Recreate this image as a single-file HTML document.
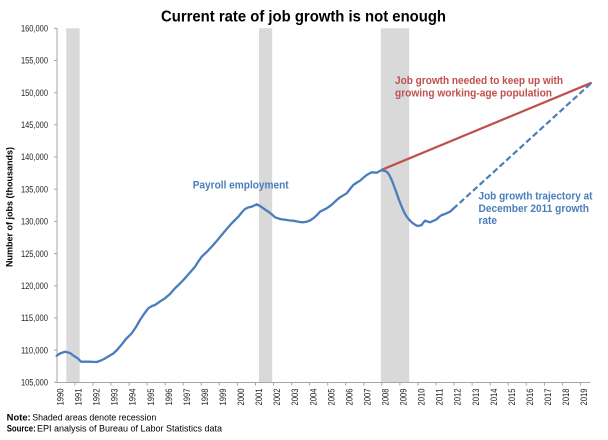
<!DOCTYPE html>
<html>
<head>
<meta charset="utf-8">
<style>
  html, body { margin: 0; padding: 0; background: #ffffff; }
  body { width: 608px; height: 440px; overflow: hidden; }
  svg { display: block; }
  text { font-family: "Liberation Sans", "DejaVu Sans", sans-serif; }
</style>
</head>
<body>
<svg width="608" height="440" viewBox="0 0 608 440" xmlns="http://www.w3.org/2000/svg">
  <rect x="0" y="0" width="608" height="440" fill="#ffffff"/>

  <!-- Title -->
  <text x="161" y="21.5" font-size="15.5" font-weight="bold" fill="#000" textLength="285" lengthAdjust="spacingAndGlyphs">Current rate of job growth is not enough</text>

  <!-- Recession shading -->
  <rect x="66.3" y="28.3" width="13.4" height="354" fill="#d9d9d9"/>
  <rect x="259" y="28.3" width="13.2" height="354" fill="#d9d9d9"/>
  <rect x="380.8" y="28.3" width="28.4" height="354" fill="#d9d9d9"/>

  <!-- Axes -->
  <line x1="57" y1="28" x2="57" y2="382.5" stroke="#a6a6a6" stroke-width="1"/>
  <line x1="57" y1="382.5" x2="590.5" y2="382.5" stroke="#a6a6a6" stroke-width="1"/>

  <!-- Y ticks and labels -->
  <g stroke="#a6a6a6" stroke-width="1">
    <line x1="54" y1="28.3" x2="57" y2="28.3"/>
    <line x1="54" y1="60.5" x2="57" y2="60.5"/>
    <line x1="54" y1="92.7" x2="57" y2="92.7"/>
    <line x1="54" y1="124.8" x2="57" y2="124.8"/>
    <line x1="54" y1="157" x2="57" y2="157"/>
    <line x1="54" y1="189.2" x2="57" y2="189.2"/>
    <line x1="54" y1="221.4" x2="57" y2="221.4"/>
    <line x1="54" y1="253.6" x2="57" y2="253.6"/>
    <line x1="54" y1="285.8" x2="57" y2="285.8"/>
    <line x1="54" y1="317.9" x2="57" y2="317.9"/>
    <line x1="54" y1="350.1" x2="57" y2="350.1"/>
    <line x1="54" y1="382.3" x2="57" y2="382.3"/>
  </g>
  <g font-size="9" fill="#222" text-anchor="end">
    <text x="48" y="31.5" textLength="27" lengthAdjust="spacingAndGlyphs">160,000</text>
    <text x="48" y="63.7" textLength="27" lengthAdjust="spacingAndGlyphs">155,000</text>
    <text x="48" y="95.9" textLength="27" lengthAdjust="spacingAndGlyphs">150,000</text>
    <text x="48" y="128" textLength="27" lengthAdjust="spacingAndGlyphs">145,000</text>
    <text x="48" y="160.2" textLength="27" lengthAdjust="spacingAndGlyphs">140,000</text>
    <text x="48" y="192.4" textLength="27" lengthAdjust="spacingAndGlyphs">135,000</text>
    <text x="48" y="224.6" textLength="27" lengthAdjust="spacingAndGlyphs">130,000</text>
    <text x="48" y="256.8" textLength="27" lengthAdjust="spacingAndGlyphs">125,000</text>
    <text x="48" y="289" textLength="27" lengthAdjust="spacingAndGlyphs">120,000</text>
    <text x="48" y="321.1" textLength="27" lengthAdjust="spacingAndGlyphs">115,000</text>
    <text x="48" y="353.3" textLength="27" lengthAdjust="spacingAndGlyphs">110,000</text>
    <text x="48" y="385.5" textLength="27" lengthAdjust="spacingAndGlyphs">105,000</text>
  </g>

  <!-- Y axis title -->
  <text transform="translate(12.5,207) rotate(-90)" text-anchor="middle" font-size="9.5" font-weight="bold" fill="#000" textLength="120" lengthAdjust="spacingAndGlyphs">Number of jobs (thousands)</text>

  <!-- X ticks -->
  <g stroke="#a6a6a6" stroke-width="1">
    <line x1="74.9" y1="382.5" x2="74.9" y2="385.5"/>
    <line x1="92.9" y1="382.5" x2="92.9" y2="385.5"/>
    <line x1="111" y1="382.5" x2="111" y2="385.5"/>
    <line x1="129" y1="382.5" x2="129" y2="385.5"/>
    <line x1="147.1" y1="382.5" x2="147.1" y2="385.5"/>
    <line x1="165.2" y1="382.5" x2="165.2" y2="385.5"/>
    <line x1="183.2" y1="382.5" x2="183.2" y2="385.5"/>
    <line x1="201.3" y1="382.5" x2="201.3" y2="385.5"/>
    <line x1="219.3" y1="382.5" x2="219.3" y2="385.5"/>
    <line x1="237.4" y1="382.5" x2="237.4" y2="385.5"/>
    <line x1="255.5" y1="382.5" x2="255.5" y2="385.5"/>
    <line x1="273.5" y1="382.5" x2="273.5" y2="385.5"/>
    <line x1="291.6" y1="382.5" x2="291.6" y2="385.5"/>
    <line x1="309.6" y1="382.5" x2="309.6" y2="385.5"/>
    <line x1="327.7" y1="382.5" x2="327.7" y2="385.5"/>
    <line x1="345.7" y1="382.5" x2="345.7" y2="385.5"/>
    <line x1="363.8" y1="382.5" x2="363.8" y2="385.5"/>
    <line x1="381.8" y1="382.5" x2="381.8" y2="385.5"/>
    <line x1="399.9" y1="382.5" x2="399.9" y2="385.5"/>
    <line x1="418" y1="382.5" x2="418" y2="385.5"/>
    <line x1="436" y1="382.5" x2="436" y2="385.5"/>
    <line x1="454.1" y1="382.5" x2="454.1" y2="385.5"/>
    <line x1="472.1" y1="382.5" x2="472.1" y2="385.5"/>
    <line x1="490.2" y1="382.5" x2="490.2" y2="385.5"/>
    <line x1="508.2" y1="382.5" x2="508.2" y2="385.5"/>
    <line x1="526.3" y1="382.5" x2="526.3" y2="385.5"/>
    <line x1="544.4" y1="382.5" x2="544.4" y2="385.5"/>
    <line x1="562.4" y1="382.5" x2="562.4" y2="385.5"/>
    <line x1="580.5" y1="382.5" x2="580.5" y2="385.5"/>
  </g>

  <!-- X labels -->
  <g font-size="9" fill="#222">
    <text transform="translate(63.5,405.5) rotate(-90)" textLength="17" lengthAdjust="spacingAndGlyphs">1990</text>
    <text transform="translate(81.5,405.5) rotate(-90)" textLength="17" lengthAdjust="spacingAndGlyphs">1991</text>
    <text transform="translate(99.6,405.5) rotate(-90)" textLength="17" lengthAdjust="spacingAndGlyphs">1992</text>
    <text transform="translate(117.6,405.5) rotate(-90)" textLength="17" lengthAdjust="spacingAndGlyphs">1993</text>
    <text transform="translate(135.7,405.5) rotate(-90)" textLength="17" lengthAdjust="spacingAndGlyphs">1994</text>
    <text transform="translate(153.8,405.5) rotate(-90)" textLength="17" lengthAdjust="spacingAndGlyphs">1995</text>
    <text transform="translate(171.8,405.5) rotate(-90)" textLength="17" lengthAdjust="spacingAndGlyphs">1996</text>
    <text transform="translate(189.9,405.5) rotate(-90)" textLength="17" lengthAdjust="spacingAndGlyphs">1997</text>
    <text transform="translate(207.9,405.5) rotate(-90)" textLength="17" lengthAdjust="spacingAndGlyphs">1998</text>
    <text transform="translate(226,405.5) rotate(-90)" textLength="17" lengthAdjust="spacingAndGlyphs">1999</text>
    <text transform="translate(244.1,405.5) rotate(-90)" textLength="17" lengthAdjust="spacingAndGlyphs">2000</text>
    <text transform="translate(262.1,405.5) rotate(-90)" textLength="17" lengthAdjust="spacingAndGlyphs">2001</text>
    <text transform="translate(280.2,405.5) rotate(-90)" textLength="17" lengthAdjust="spacingAndGlyphs">2002</text>
    <text transform="translate(298.2,405.5) rotate(-90)" textLength="17" lengthAdjust="spacingAndGlyphs">2003</text>
    <text transform="translate(316.3,405.5) rotate(-90)" textLength="17" lengthAdjust="spacingAndGlyphs">2004</text>
    <text transform="translate(334.3,405.5) rotate(-90)" textLength="17" lengthAdjust="spacingAndGlyphs">2005</text>
    <text transform="translate(352.4,405.5) rotate(-90)" textLength="17" lengthAdjust="spacingAndGlyphs">2006</text>
    <text transform="translate(370.4,405.5) rotate(-90)" textLength="17" lengthAdjust="spacingAndGlyphs">2007</text>
    <text transform="translate(388.5,405.5) rotate(-90)" textLength="17" lengthAdjust="spacingAndGlyphs">2008</text>
    <text transform="translate(406.6,405.5) rotate(-90)" textLength="17" lengthAdjust="spacingAndGlyphs">2009</text>
    <text transform="translate(424.6,405.5) rotate(-90)" textLength="17" lengthAdjust="spacingAndGlyphs">2010</text>
    <text transform="translate(442.7,405.5) rotate(-90)" textLength="17" lengthAdjust="spacingAndGlyphs">2011</text>
    <text transform="translate(460.7,405.5) rotate(-90)" textLength="17" lengthAdjust="spacingAndGlyphs">2012</text>
    <text transform="translate(478.8,405.5) rotate(-90)" textLength="17" lengthAdjust="spacingAndGlyphs">2013</text>
    <text transform="translate(496.8,405.5) rotate(-90)" textLength="17" lengthAdjust="spacingAndGlyphs">2014</text>
    <text transform="translate(514.9,405.5) rotate(-90)" textLength="17" lengthAdjust="spacingAndGlyphs">2015</text>
    <text transform="translate(533,405.5) rotate(-90)" textLength="17" lengthAdjust="spacingAndGlyphs">2016</text>
    <text transform="translate(551,405.5) rotate(-90)" textLength="17" lengthAdjust="spacingAndGlyphs">2017</text>
    <text transform="translate(569.1,405.5) rotate(-90)" textLength="17" lengthAdjust="spacingAndGlyphs">2018</text>
    <text transform="translate(587.1,405.5) rotate(-90)" textLength="17" lengthAdjust="spacingAndGlyphs">2019</text>
  </g>

  <!-- Red line: needed growth -->
  <line x1="381.7" y1="169.8" x2="591.7" y2="82.7" stroke="#c0504d" stroke-width="2.2"/>

  <!-- Blue dashed projection -->
  <line x1="453" y1="209" x2="591.7" y2="82.7" stroke="#4a7ebb" stroke-width="2.2" stroke-dasharray="6,3"/>

  <!-- Payroll employment series -->
  <polyline fill="none" stroke="#4a7ebb" stroke-width="2.3" stroke-linejoin="round" stroke-linecap="round"
    points="56.7,355.7 60,353.5 65,351.7 70,353 75,356.7 78,358.5 81,361.7 88.3,361.7 96.7,362 101,360.5 105,358.5 109,356 113.3,353.5 117,350 121.7,344.5 126,339 131.7,333.3 136,327 140,320 144,314 148.3,308.3 152,306 155,305 160,301.5 165,298.3 170,294 175,288.3 180,283.5 185,278.3 190,272.5 195,266.7 198,262 201.7,256.7 206.7,252 211.7,246.7 216.7,241 221.7,235 226.7,229 231.7,223.3 235,220 238.3,216.7 241.7,212.5 245,209 248,207.5 251.7,206.7 256.7,204.3 260,206 263.3,208.3 268.3,211.7 272,214.5 275,217.3 280,219 286.7,220 290,220.5 293.3,220.7 296,221.3 300,222 303,222.3 306.7,221.7 310,220.5 313.3,218.3 317,215 320,211.7 326.7,208.3 330,206 333.3,203.3 336.7,200 340,197.3 346.7,193.3 350,189 353.3,185 357,182.5 360,180.7 363,178 366.7,175 371.7,172.3 376.7,172.7 381.7,170 386.7,171.7 389,174.5 391.7,180 394,186 396.7,193.3 399,200 401.7,206.7 404,212 406.7,216.7 409,219.5 411.7,222.3 414,224 416.7,225.7 419,225.8 421.7,225 423,223 425,220.7 427.5,221.5 430,222.3 433,221 436.7,219.3 439,217 441.7,215 445,214 450,211.7 453,209"/>

  <!-- Annotations -->
  <text x="395" y="84" font-size="11" font-weight="bold" fill="#c0504d" textLength="168" lengthAdjust="spacingAndGlyphs">Job growth needed to keep up with</text>
  <text x="395" y="96.5" font-size="11" font-weight="bold" fill="#c0504d" textLength="157" lengthAdjust="spacingAndGlyphs">growing working-age population</text>

  <text x="192.7" y="188.5" font-size="11" font-weight="bold" fill="#4a7ebb" textLength="96" lengthAdjust="spacingAndGlyphs">Payroll employment</text>

  <text x="478.5" y="199.5" font-size="11" font-weight="bold" fill="#4a7ebb" textLength="114" lengthAdjust="spacingAndGlyphs">Job growth trajectory at</text>
  <text x="478.5" y="211.8" font-size="11" font-weight="bold" fill="#4a7ebb" textLength="110.5" lengthAdjust="spacingAndGlyphs">December 2011 growth</text>
  <text x="478.5" y="224" font-size="11" font-weight="bold" fill="#4a7ebb" textLength="18.5" lengthAdjust="spacingAndGlyphs">rate</text>

  <!-- Notes -->
  <text x="6.7" y="420.5" font-size="9" font-weight="bold" fill="#000" textLength="24" lengthAdjust="spacingAndGlyphs">Note:</text>
  <text x="32.3" y="420.5" font-size="9" fill="#000" textLength="124" lengthAdjust="spacingAndGlyphs">Shaded areas denote recession</text>
  <text x="6.7" y="431.7" font-size="9" font-weight="bold" fill="#000" textLength="29" lengthAdjust="spacingAndGlyphs">Source:</text>
  <text x="37" y="431.7" font-size="9" fill="#000" textLength="185" lengthAdjust="spacingAndGlyphs">EPI analysis of Bureau of Labor Statistics data</text>
</svg>
</body>
</html>
